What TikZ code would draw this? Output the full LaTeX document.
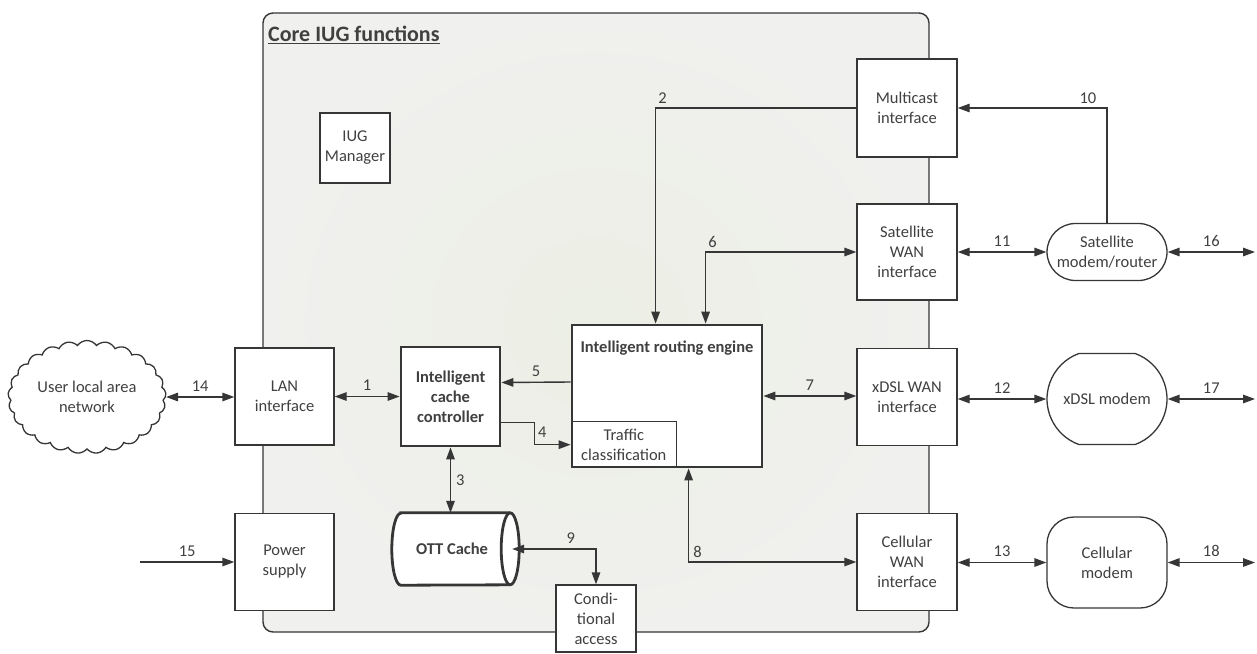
\documentclass[tikz,border=0pt]{standalone}
\usepackage{fontspec}
\setmainfont{Carlito}
\usetikzlibrary{arrows.meta,shapes.misc,shapes.symbols,calc}

\definecolor{ink}{HTML}{363636}
\definecolor{txt}{HTML}{404040}
\definecolor{corefill}{HTML}{F0F0EE}
\definecolor{coreglow}{HTML}{ECEFE5}

\begin{document}
\begin{tikzpicture}[x=1pt,y=-1pt,
  >={Triangle[length=12pt,width=8.5pt]},
  every node/.style={font=\fontsize{16.5}{20}\selectfont, text=txt, inner sep=0pt},
  box/.style={draw=ink, fill=white, line width=1.4pt, minimum width=100, minimum height=98, align=center},
  heavy/.style={box, line width=2.8pt, font=\fontsize{16.5}{20}\selectfont\bfseries},
  modem/.style={draw=ink, fill=white, line width=1.3pt, minimum width=120, align=center},
  link/.style={draw=ink, line width=1.4pt},
  num/.style={font=\fontsize{16.5}{20}\selectfont}]

\useasboundingbox (0,0) rectangle (1257,653);

% core function area
\shade[inner color=coreglow, outer color=corefill, rounded corners=10] (263,13) rectangle (929,632);
\draw[ink, line width=1.4pt, rounded corners=10] (263,13) rectangle (929,632);
\node[font=\fontsize{22}{26}\selectfont\bfseries, anchor=base west] (title) at (268,41.5) {\underline{Core IUG functions}};

% interface boxes
\node[box, minimum width=70, minimum height=70] (mgr) at (355,148) {IUG\\Manager};
\node[box] (mcast) at (907,108) {Multicast\\interface};
\node[box, minimum height=96] (satwan) at (907,252) {Satellite\\WAN\\interface};
\node[box, minimum height=97] (dslwan) at (907,397) {xDSL WAN\\interface};
\node[box, minimum height=97] (cellwan) at (907,562) {Cellular\\WAN\\interface};
\node[box, minimum width=99, minimum height=97] (lan) at (284.5,396.5) {LAN\\interface};
\node[box, minimum width=99, minimum height=97] (power) at (284.5,562) {Power\\supply};
\node[box, minimum width=80, minimum height=67] (cond) at (596,618.5) {Condi-\\tional\\access};

% intelligent cache controller
\node[heavy, minimum width=99, minimum height=99] (icc) at (450.5,396.5) {Intelligent\\cache\\controller};

% intelligent routing engine with its traffic classification block
\node[heavy, minimum width=190, minimum height=142] (ire) at (667,396) {};
\node[font=\fontsize{16.5}{20}\selectfont\bfseries, anchor=base] (iretitle) at (667,352) {Intelligent routing engine};
\node[draw=ink, line width=1.4pt, minimum width=105, minimum height=46, anchor=south west, align=center] (tc) at (ire.south west) {Traffic\\classification};

% OTT cache cylinder
\node[minimum width=127, minimum height=72] (ott) at (455.5,549) {};
\draw[ink, line width=2.8pt, fill=white]
  ($(ott.north west)+(9,0)$) -- ($(ott.north east)+(-9,0)$)
  arc[start angle=270, end angle=450, x radius=9, y radius=36]
  -- ($(ott.south west)+(9,0)$)
  arc[start angle=90, end angle=270, x radius=9, y radius=36] -- cycle;
\draw[ink, line width=2.8pt] ($(ott.north east)+(-9,0)$)
  arc[start angle=270, end angle=90, x radius=9, y radius=36];
\node[font=\fontsize{16.5}{20}\selectfont\bfseries] (ottlabel) at (452,549) {OTT Cache};
\coordinate (ottend) at ($(ott.east)+(-7,0)$);

% user LAN cloud
\node[cloud, draw=ink, fill=white, line width=1.3pt, cloud puffs=25, cloud puff arc=110,
  aspect=1.4, minimum width=158, minimum height=113, align=center] (lanet) at (87,397) {User local area\\network};

% external modems
\node[modem, rounded rectangle, minimum height=57] (satm) at (1107,252) {Satellite\\modem/router};
\node[modem, rounded rectangle, rounded rectangle arc length=140, minimum height=91] (dslm) at (1107,399) {xDSL modem};
\node[modem, rectangle, rounded corners=27, minimum height=91] (cellm) at (1107,562.5) {Cellular\\modem};

% free ends
\coordinate (o16) at (1255,252);
\coordinate (o17) at (1255,399);
\coordinate (o18) at (1255,562.5);
\coordinate (in15) at (140,562);

% connectors
\draw[link,<->] (lanet.east) -- (lanet.east -| lan.west) node[num, midway, above=5pt] {14};
\draw[link,<->] (lan.east) -- (icc.west) node[num, midway, above=5pt] {1};
\draw[link,->] (in15) -- (power.west) node[num, midway, above=5pt] {15};
\draw[link,->] ([yshift=14pt]ire.west) -- ([yshift=14pt]icc.east) node[num, midway, above=5pt] {5};
\draw[link,->] ([yshift=-26pt]icc.east) -- ++(33,0)
  node[num, anchor=north west, xshift=3pt, yshift=-4pt] {4} |- (tc.west);
\draw[link,<->] (icc.south) -- (icc.south |- ott.north) node[num, midway, right=5pt] {3};
\draw[link,<->] (ottend) -| (cond.north) node[num, pos=0.35, above=5pt] {9};
\draw[link,->] (mcast.west) -| ($(ire.north west)+(85,0)$)
  node[num, pos=0.5, anchor=south west, xshift=2pt, yshift=4pt] {2};
\draw[link,<->] (satwan.west) -| ($(ire.north west)+(135,0)$)
  node[num, pos=0.5, anchor=south west, xshift=2pt, yshift=4pt] {6};
\draw[link,<->] (ire.east) -- (ire.east -| dslwan.west) node[num, midway, above=5pt] {7};
\draw[link,<->] ($(ire.south west)+(118,0)$) |- (cellwan.west)
  node[num, pos=0.5, anchor=south west, xshift=4pt, yshift=4pt] {8};
\draw[link,->] (satm.north) |- (mcast.east)
  node[num, pos=0.5, anchor=south east, xshift=-10pt, yshift=4pt] {10};
\draw[link,<->] (satwan.east) -- (satm.west) node[num, midway, above=5pt] {11};
\draw[link,<->] (dslwan.east |- dslm.west) -- (dslm.west) node[num, midway, above=5pt] {12};
\draw[link,<->] (cellwan.east |- cellm.west) -- (cellm.west) node[num, midway, above=5pt] {13};
\draw[link,<->] (satm.east) -- (o16) node[num, midway, above=5pt] {16};
\draw[link,<->] (dslm.east) -- (o17) node[num, midway, above=5pt] {17};
\draw[link,<->] (cellm.east) -- (o18) node[num, midway, above=5pt] {18};
\end{tikzpicture}
\end{document}
